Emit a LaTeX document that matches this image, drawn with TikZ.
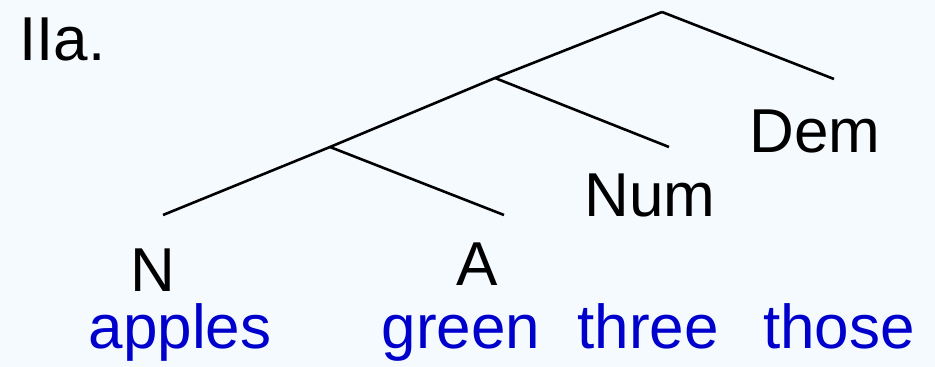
\documentclass[tikz,border=0pt]{standalone}
\usepackage{fontspec}
\setmainfont{Liberation Sans}
\usepackage{tikz}
\definecolor{bgblue}{HTML}{F5FAFF}
\definecolor{wordblue}{HTML}{0000CC}

\begin{document}
\begin{tikzpicture}[x=1pt, y=-1pt, line width=2.6pt,
  cat/.style={anchor=base, inner sep=0pt, font=\fontsize{62}{70}\selectfont},
  word/.style={cat, text=wordblue}]
\fill[bgblue] (0,0) rectangle (935,367);
\useasboundingbox (0,0) rectangle (935,367);
% branching points and leaf ends
\coordinate (root) at (662,12);
\coordinate (numj) at (495,78);
\coordinate (aj) at (330,147);
\coordinate (demend) at (834,79);
\coordinate (numend) at (669,147);
\coordinate (aend) at (504,215);
\coordinate (nend) at (163,215);
\draw (root) -- (demend);
\draw (root) -- (numj) -- (aj) -- (nend);
\draw (numj) -- (numend);
\draw (aj) -- (aend);
% labels
\node (title) [cat, anchor=base west] at (18,60) {IIa.};
\node (Dem) [cat] at (815,152) {Dem};
\node (Num) [cat] at (650,216) {Num};
\node (N) [cat] at (153,291) {N};
\node (A) [cat] at (477,285) {A};
\node (apples) [word] at (180,348) {apples};
\node (green) [word] at (461,348) {green};
\node (three) [word] at (648,348) {three};
\node (those) [word] at (839,348) {those};
\end{tikzpicture}
\end{document}
